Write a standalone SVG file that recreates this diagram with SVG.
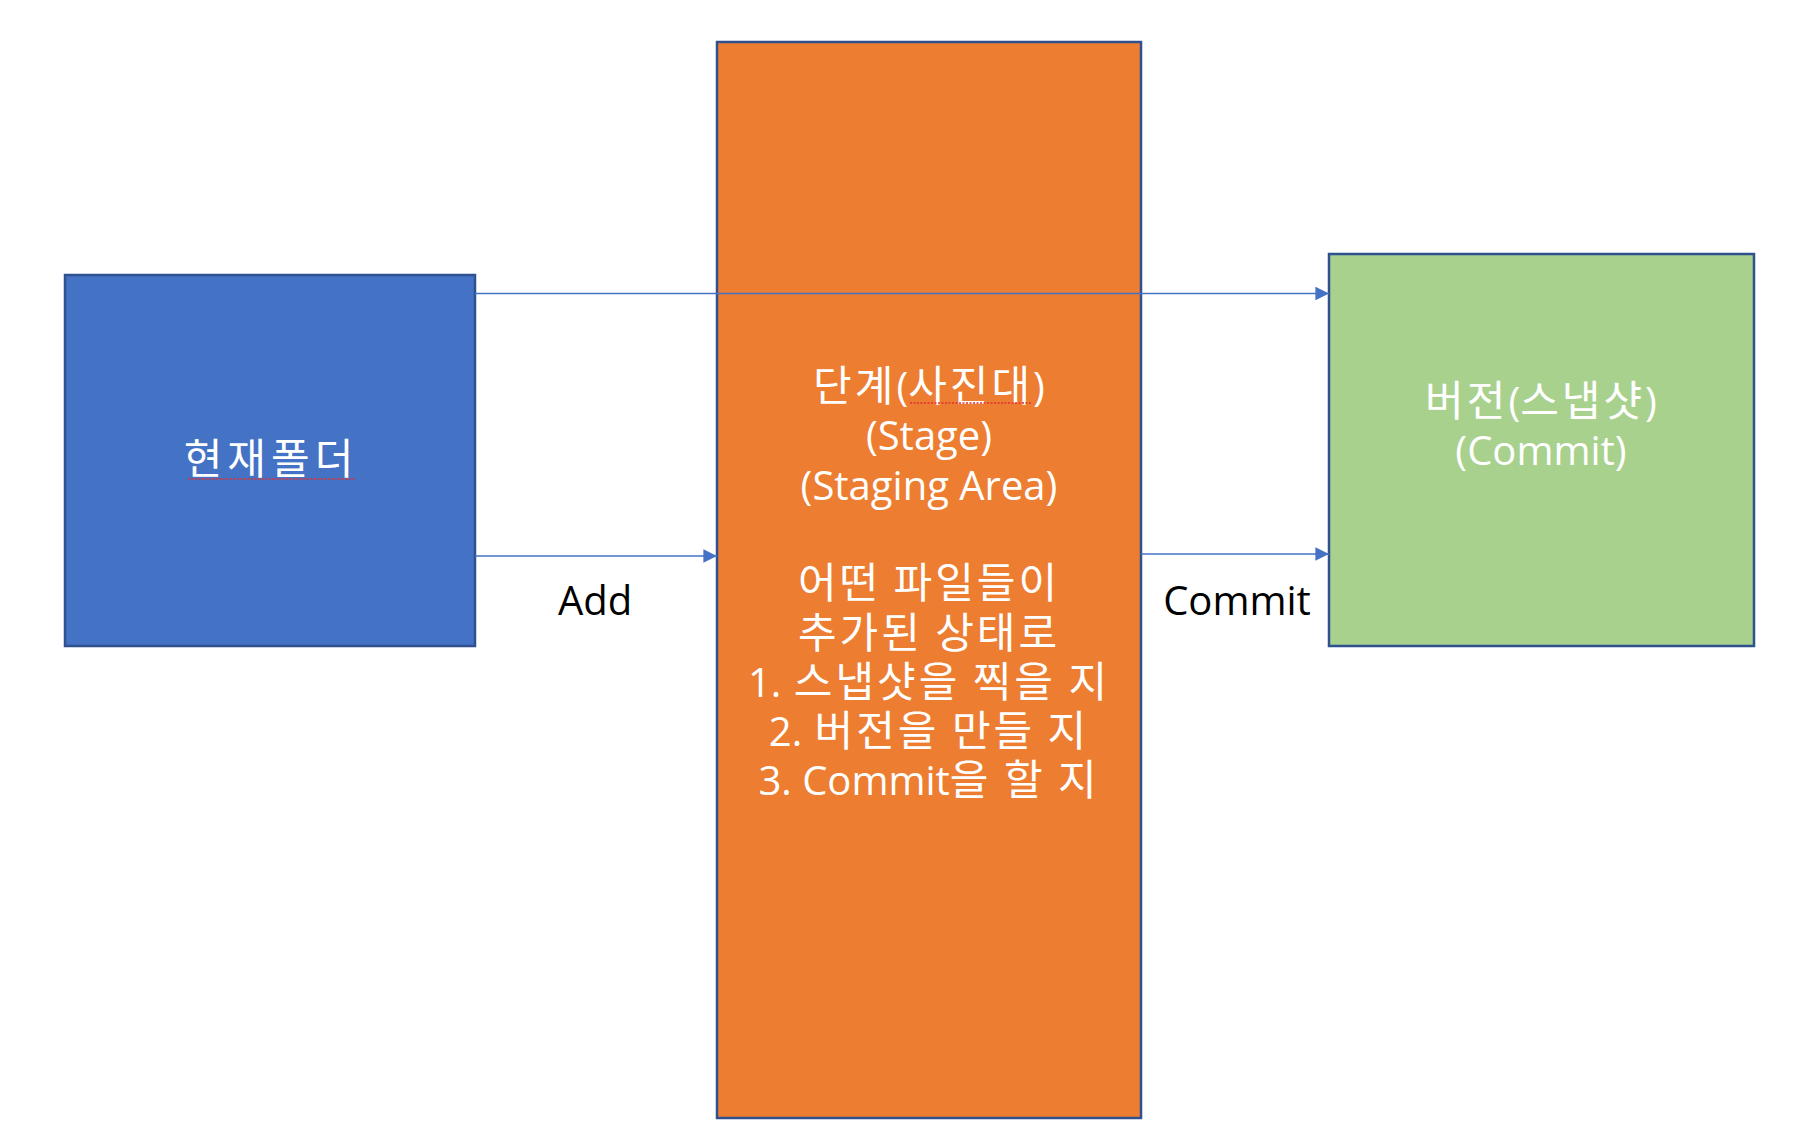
<svg xmlns="http://www.w3.org/2000/svg" width="1811" height="1146" viewBox="0 0 1811 1146">
<style>
.box{stroke:#2F528F;stroke-width:2.5}
.t{font-family:"Open Sans","Noto Sans CJK KR",sans-serif;font-size:40px;text-anchor:middle}
.kr{font-family:"Noto Sans CJK KR",sans-serif;font-size:42px;letter-spacing:3px}
.w{fill:#FFFFFF}
.k{fill:#000000}
.conn{stroke:#4472C4;stroke-width:1.6;fill:none}
.sq{stroke:#E03030;stroke-width:1.5;stroke-dasharray:2 1.5;fill:none}
</style>
<defs>
<marker id="arr" viewBox="0 0 10 10" refX="10" refY="5" markerWidth="8.5" markerHeight="8.5" markerUnits="strokeWidth" orient="auto">
<path d="M0,0 L10,5 L0,10 z" fill="#4472C4"/>
</marker>
</defs>
<rect width="1811" height="1146" fill="#FFFFFF"/>
<g id="node-folder">
<rect class="box" x="65" y="275" width="410" height="371" fill="#4472C4"/>
<text class="t w" x="271" y="474"><tspan class="kr" style="letter-spacing:5px">현재폴더</tspan></text>
<path class="sq" d="M188,479 L355,479"/>
</g>
<g id="node-stage">
<rect class="box" x="717" y="42" width="424" height="1076" fill="#ED7D31"/>
<text class="t w" x="929" y="401"><tspan class="kr">단계</tspan>(<tspan class="kr">사진대</tspan>)</text>
<text class="t w" x="929" y="450.3">(Stage)</text>
<text class="t w" x="929" y="499.6">(Staging Area)</text>
<text class="t w" x="929" y="598.2"><tspan class="kr">어떤 파일들이</tspan></text>
<text class="t w" x="929" y="647.5"><tspan class="kr">추가된 상태로</tspan></text>
<text class="t w" x="929" y="696.8">1.<tspan class="kr"> 스냅샷을 찍을 지</tspan></text>
<text class="t w" x="929" y="746.1">2.<tspan class="kr"> 버전을 만들 지</tspan></text>
<text class="t w" x="929" y="795.4">3. Commit<tspan class="kr">을 할 지</tspan></text>
<path class="sq" d="M910,403 L1031,403"/>
</g>
<g id="node-commit">
<rect class="box" x="1329" y="254" width="425" height="392" fill="#A9D18E"/>
<text class="t w" x="1541" y="416"><tspan class="kr">버전</tspan>(<tspan class="kr">스냅샷</tspan>)</text>
<text class="t w" x="1541" y="465">(Commit)</text>
</g>
<g id="connectors">
<path class="conn" d="M475,293.5 L1329,293.5" marker-end="url(#arr)"/>
<path class="conn" d="M475,556 L717,556" marker-end="url(#arr)"/>
<path class="conn" d="M1141,554 L1329,554" marker-end="url(#arr)"/>
<text class="t k" x="595" y="615">Add</text>
<text class="t k" x="1237" y="615">Commit</text>
</g>
</svg>
